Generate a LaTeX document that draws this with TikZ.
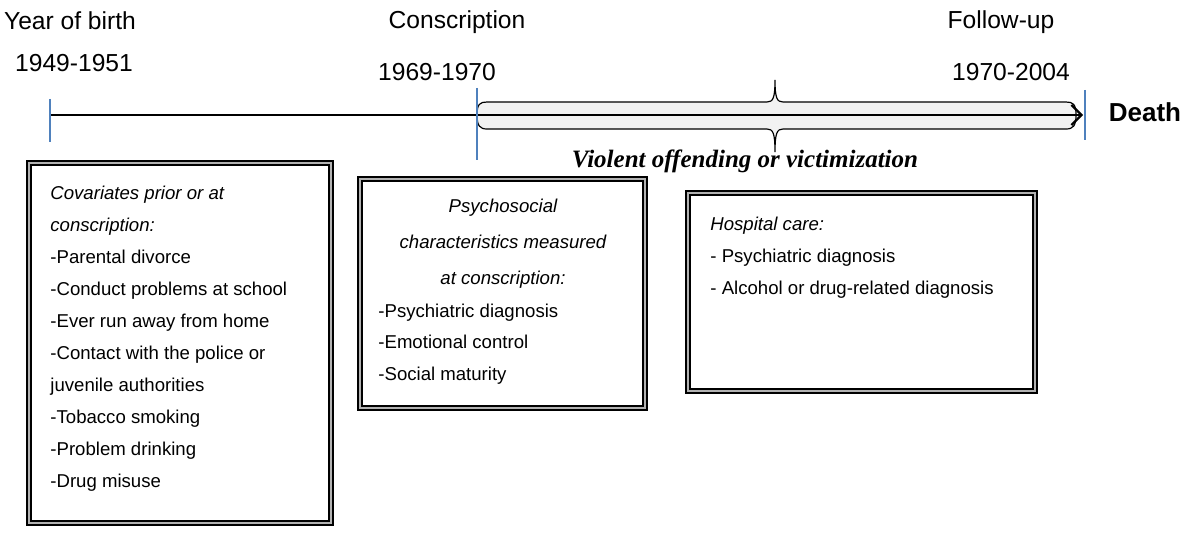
\documentclass[tikz,border=0pt]{standalone}
\usepackage{fontspec}
\setmainfont{Liberation Sans}
\newfontfamily\timesfont{Liberation Serif}
\usetikzlibrary{arrows.meta}
\definecolor{tickblue}{RGB}{79,129,189}
\begin{document}
\begin{tikzpicture}[x=0.5pt,y=-0.5pt,
  lbl/.style={font=\fontsize{12.3}{14}\selectfont, inner sep=0},
  framebox/.style={draw=black, line width=0.8pt, double=gray!60, double distance=1pt, fill=white, inner sep=0},
  boxtext/.style={font=\fontsize{9.3}{16}\selectfont, inner sep=0, align=left},
  ticks/.style={draw=tickblue, line width=1pt},
  band/.style={fill=gray!10, draw=black, line width=0.6pt},
]
\useasboundingbox (0,0) rectangle (1200,540);

% top labels
\node[lbl] (yob) at (70,21) {Year of birth};
\node[lbl] (y1) at (74,63) {1949-1951};
\node[lbl] (cons) at (457,22) {Conscription};
\node[lbl] (y2) at (437,72) {1969-1970};
\node[lbl] (fol) at (1001,22) {Follow-up};
\node[lbl] (y3) at (1011,72) {1970-2004};
\node[lbl, font=\fontsize{13}{15}\selectfont\bfseries] (death) at (1145,112) {Death};

% follow-up band with braces
\path[band]
 (477,115) .. controls (477,104) and (480,102) .. (487,102)
 -- (767,102) .. controls (773,102) and (775,98) .. (775,80)
 .. controls (775,98) and (777,102) .. (783,102)
 -- (1066,102) .. controls (1073,102) and (1076,104) .. (1076,115)
 .. controls (1076,126) and (1073,129) .. (1066,129)
 -- (783,129) .. controls (777,129) and (775,133) .. (775,152)
 .. controls (775,133) and (773,129) .. (767,129)
 -- (487,129) .. controls (480,129) and (477,126) .. (477,115) -- cycle;

\node[inner sep=0, font=\timesfont\fontsize{12.5}{14}\selectfont\bfseries\itshape] (viol) at (745,161) {Violent offending or victimization};

% timeline
\coordinate (t1) at (50,115);
\coordinate (tend) at (1083,115);
\draw[line width=1.1pt, -{Straight Barb[length=5pt,width=10pt]}] (t1) -- (tend);

\coordinate (k1a) at (50,99);  \coordinate (k1b) at (50,142);
\coordinate (k2a) at (477,88); \coordinate (k2b) at (477,160);
\coordinate (k3a) at (1085,90); \coordinate (k3b) at (1085,140);
\draw[ticks] (k1a) -- (k1b);
\draw[ticks] (k2a) -- (k2b);
\draw[ticks] (k3a) -- (k3b);

% boxes
\node[framebox, minimum width=151pt, minimum height=180pt] (box1) at (180,343) {};
\node[framebox, minimum width=142.5pt, minimum height=114.5pt] (box2) at (502.5,293.5) {};
\node[framebox, minimum width=173.5pt, minimum height=99pt] (box3) at (861.5,292) {};

\node[boxtext, anchor=north west] (txt1) at (50,185.5) {\textit{Covariates prior or at}\\
\textit{conscription:}\\
-Parental divorce\\
-Conduct problems at school\\
-Ever run away from home\\
-Contact with the police or\\
juvenile authorities\\
-Tobacco smoking\\
-Problem drinking\\
-Drug misuse};

\node[boxtext, align=center, anchor=north, font=\fontsize{9.3}{18}\selectfont\itshape] (txt2a) at (503,198.5) {Psychosocial\\
characteristics measured\\
at conscription:};
\node[boxtext, anchor=north west, font=\fontsize{9.3}{15.75}\selectfont] (txt2b) at (378,303.5) {-Psychiatric diagnosis\\
-Emotional control\\
-Social maturity};

\node[boxtext, anchor=north west] (txt3) at (710,216.5) {\textit{Hospital care:}\\
- Psychiatric diagnosis\\
- Alcohol or drug-related diagnosis};
\end{tikzpicture}
\end{document}
